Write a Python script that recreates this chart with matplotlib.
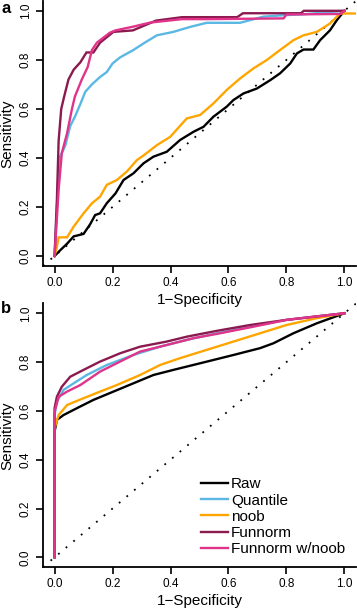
import numpy as np
import matplotlib.pyplot as plt

plt.rcParams['font.family'] = ['Liberation Sans', 'DejaVu Sans']

labels = ['Raw', 'Quantile', 'noob', 'Funnorm', 'Funnorm w/noob']
colors = ['#000000', '#5BB8E4', '#FFA500', '#8B1A4F', '#E0338A']

# panel a: ROC curves (1-specificity, sensitivity)
a_raw_x = [0, 0.02, 0.043, 0.066, 0.1, 0.123, 0.14, 0.157, 0.18, 0.21, 0.238, 0.272, 0.307, 0.341, 0.387,
           0.433, 0.48, 0.514, 0.548, 0.594, 0.617, 0.652, 0.698, 0.744, 0.778, 0.813, 0.836, 0.859, 0.893,
           0.916, 0.95, 0.974, 1.0]
a_raw_y = [0, 0.024, 0.05, 0.08, 0.09, 0.13, 0.167, 0.174, 0.215, 0.255, 0.31, 0.337, 0.378, 0.405, 0.425,
           0.473, 0.507, 0.527, 0.568, 0.609, 0.636, 0.663, 0.683, 0.717, 0.745, 0.785, 0.826, 0.842, 0.842,
           0.88, 0.92, 0.962, 1.0]
a_quant_x = [0, 0.008, 0.017, 0.037, 0.054, 0.071, 0.089, 0.106, 0.129, 0.157, 0.18, 0.2, 0.226, 0.272,
             0.307, 0.353, 0.41, 0.47, 0.525, 0.64, 0.72, 0.79, 0.85, 1.0]
a_quant_y = [0, 0.2, 0.4, 0.45, 0.53, 0.57, 0.62, 0.67, 0.7, 0.73, 0.75, 0.785, 0.81, 0.84,
             0.867, 0.9, 0.914, 0.935, 0.951, 0.951, 0.976, 0.982, 0.985, 1.0]
a_noob_x = [0, 0.008, 0.014, 0.043, 0.066, 0.1, 0.129, 0.157, 0.18, 0.215, 0.249, 0.284, 0.307, 0.353,
            0.399, 0.456, 0.502, 0.548, 0.594, 0.64, 0.686, 0.732, 0.778, 0.824, 0.859, 0.905, 0.95,
            0.985, 1.0, 1.05]
a_noob_y = [0, 0.038, 0.076, 0.076, 0.12, 0.174, 0.215, 0.242, 0.29, 0.31, 0.344, 0.391, 0.41, 0.452,
            0.486, 0.561, 0.575, 0.622, 0.677, 0.724, 0.765, 0.799, 0.84, 0.88, 0.9, 0.914, 0.948,
            0.989, 0.989, 0.989]
a_fun_x = [0, 0.008, 0.014, 0.023, 0.033, 0.048, 0.066, 0.089, 0.11, 0.134, 0.157, 0.203, 0.27, 0.35,
           0.44, 0.63, 0.65, 0.85, 0.86, 1.0]
a_fun_y = [0, 0.23, 0.47, 0.6, 0.65, 0.72, 0.76, 0.79, 0.83, 0.83, 0.87, 0.914, 0.92, 0.96,
           0.974, 0.974, 0.99, 0.99, 1.0, 1.0]
a_funnoob_x = [0, 0.014, 0.025, 0.043, 0.06, 0.07, 0.094, 0.114, 0.129, 0.146, 0.19, 0.21, 0.27, 0.33,
               0.44, 0.525, 0.79, 0.80, 0.985, 1.0]
a_funnoob_y = [0, 0.27, 0.42, 0.5, 0.6, 0.65, 0.72, 0.77, 0.84, 0.87, 0.91, 0.92, 0.935, 0.952,
               0.966, 0.966, 0.969, 0.985, 0.987, 1.0]

# panel b
b_raw_x = [0, 0.0, 0.008, 0.031, 0.077, 0.134, 0.203, 0.272, 0.341, 0.41, 0.502, 0.617, 0.709, 0.755,
           0.824, 0.905, 1.0]
b_raw_y = [0, 0.515, 0.563, 0.583, 0.611, 0.645, 0.679, 0.713, 0.747, 0.768, 0.795, 0.829, 0.857, 0.877,
           0.918, 0.959, 1.0]
b_quant_x = [0, 0.0, 0.008, 0.031, 0.066, 0.111, 0.18, 0.272, 0.364, 0.456, 0.56, 0.675, 0.801, 1.0]
b_quant_y = [0, 0.583, 0.638, 0.686, 0.713, 0.747, 0.788, 0.829, 0.863, 0.891, 0.918, 0.945, 0.973, 1.0]
b_noob_x = [0, 0.0, 0.014, 0.043, 0.1, 0.157, 0.215, 0.295, 0.364, 0.433, 0.525, 0.617, 0.709, 0.801,
            0.905, 1.0]
b_noob_y = [0, 0.53, 0.583, 0.624, 0.652, 0.679, 0.706, 0.747, 0.788, 0.816, 0.85, 0.884, 0.918, 0.952,
            0.98, 1.0]
b_fun_x = [0, 0.0, 0.008, 0.025, 0.054, 0.1, 0.157, 0.226, 0.295, 0.387, 0.456, 0.56, 0.675, 0.801, 1.0]
b_fun_y = [0, 0.611, 0.658, 0.699, 0.74, 0.768, 0.802, 0.836, 0.863, 0.884, 0.904, 0.928, 0.952, 0.973, 1.0]
b_funnoob_x = [0, 0.0, 0.014, 0.043, 0.089, 0.157, 0.226, 0.295, 0.387, 0.48, 0.571, 0.686, 0.801, 1.0]
b_funnoob_y = [0, 0.597, 0.658, 0.679, 0.706, 0.761, 0.802, 0.843, 0.87, 0.898, 0.918, 0.945, 0.973, 1.0]

ticks = [0.0, 0.2, 0.4, 0.6, 0.8, 1.0]
tick_labels = ['0.0', '0.2', '0.4', '0.6', '0.8', '1.0']

fig = plt.figure(figsize=(3.57, 6.13), dpi=100)
ax_a = fig.add_axes([0.1204, 0.5664, 0.8768, 0.432])
ax_b = fig.add_axes([0.1204, 0.0749, 0.8768, 0.430])
ax_b.patch.set_visible(False)
ax_a.patch.set_visible(False)

curves_a = [(a_raw_x, a_raw_y), (a_quant_x, a_quant_y), (a_noob_x, a_noob_y),
            (a_fun_x, a_fun_y), (a_funnoob_x, a_funnoob_y)]
curves_b = [(b_raw_x, b_raw_y), (b_quant_x, b_quant_y), (b_noob_x, b_noob_y),
            (b_fun_x, b_fun_y), (b_funnoob_x, b_funnoob_y)]

for ax, curves in [(ax_a, curves_a), (ax_b, curves_b)]:
    ax.plot([-0.04, 1.04], [-0.04, 1.04], color='black', lw=1.3, ls=(0, (1, 4.5)))
    for (x, y), c, lab in zip(curves, colors, labels):
        ax.plot(x, y, color=c, lw=1.7, label=lab, solid_joinstyle='miter')
    ax.set_xlim(-0.04, 1.04)
    ax.set_ylim(-0.04, 1.04)
    ax.spines['top'].set_visible(False)
    ax.spines['right'].set_visible(False)
    ax.spines['left'].set_linewidth(1.3)
    ax.spines['bottom'].set_linewidth(1.3)
    ax.set_xticks(ticks)
    ax.set_xticklabels(tick_labels)
    ax.set_yticks(ticks)
    ax.set_yticklabels(tick_labels, rotation=90, va='center')
    ax.tick_params(length=5, width=1.2, labelsize=8.5, pad=3)
    ax.set_xlabel('1\u2212Specificity', fontsize=11, labelpad=3)
    ax.set_ylabel('Sensitivity', fontsize=11, labelpad=4)

ax_b.legend(loc='lower right', frameon=False, fontsize=11, handlelength=1.75,
            handletextpad=0.2, labelspacing=0.15, borderaxespad=0.3,
            bbox_to_anchor=(1.0, 0.0))

fig.text(0.003, 0.999, 'a', fontsize=12, fontweight='bold', va='top', ha='left')
fig.text(0.003, 0.497, 'b', fontsize=12, fontweight='bold', va='center', ha='left')

fig.savefig('out.png', dpi=100)
